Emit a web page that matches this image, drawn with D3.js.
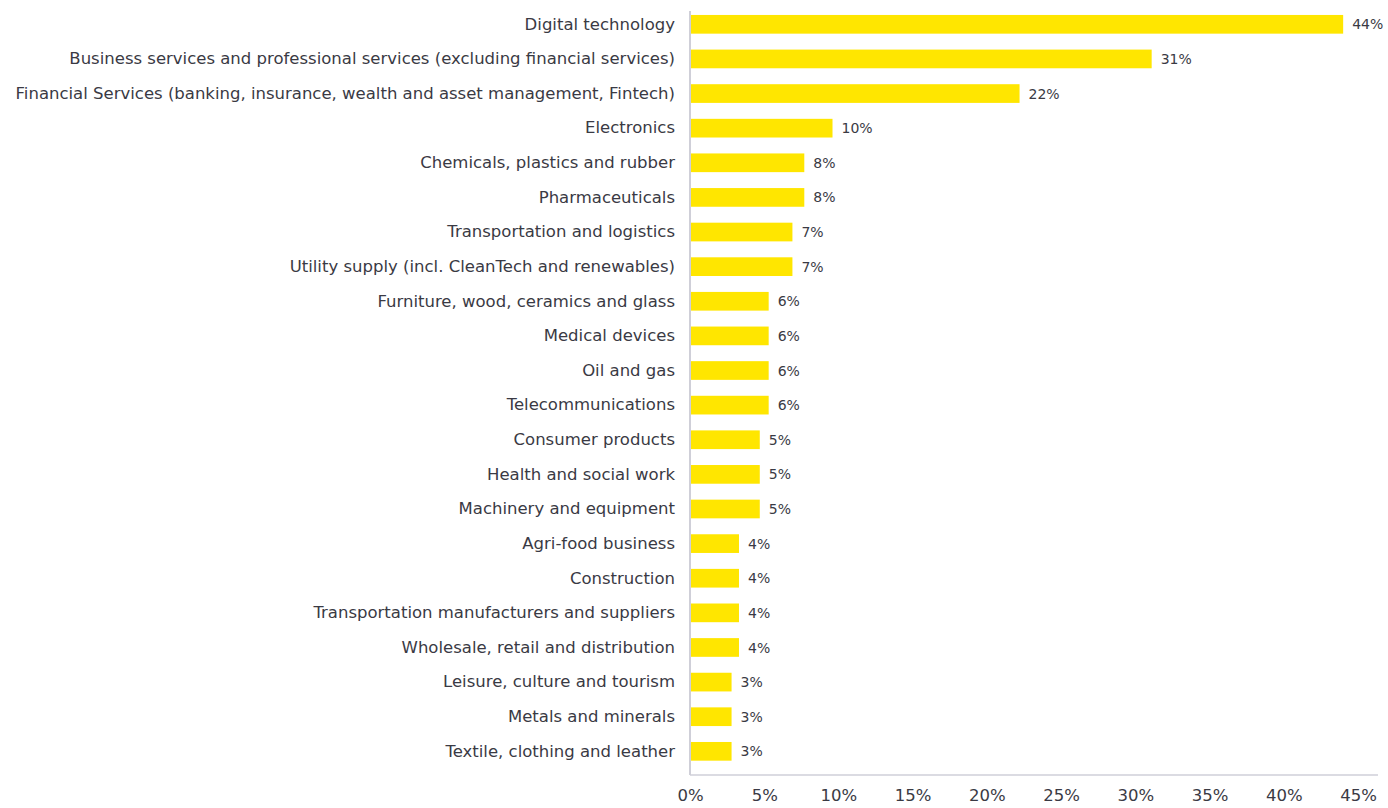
<!DOCTYPE html>
<html>
<head>
<meta charset="utf-8">
<script src="https://cdn.jsdelivr.net/npm/d3@7"></script>
<style>
  html, body { margin: 0; padding: 0; background: #fff; }
  svg { display: block; }
  text { font-family: "DejaVu Sans", "Noto Sans", sans-serif; fill: #3a3a44; }
</style>
</head>
<body>
<svg id="chart" width="1388" height="808"></svg>
<script>
const categories = [
  "Digital technology",
  "Business services and professional services (excluding financial services)",
  "Financial Services (banking, insurance, wealth and asset management, Fintech)",
  "Electronics",
  "Chemicals, plastics and rubber",
  "Pharmaceuticals",
  "Transportation and logistics",
  "Utility supply (incl. CleanTech and renewables)",
  "Furniture, wood, ceramics and glass",
  "Medical devices",
  "Oil and gas",
  "Telecommunications",
  "Consumer products",
  "Health and social work",
  "Machinery and equipment",
  "Agri-food business",
  "Construction",
  "Transportation manufacturers and suppliers",
  "Wholesale, retail and distribution",
  "Leisure, culture and tourism",
  "Metals and minerals",
  "Textile, clothing and leather"
];
// bar lengths (percent)
const values = [44.0, 31.1, 22.2, 9.6, 7.7, 7.7, 6.9, 6.9, 5.3, 5.3, 5.3, 5.3, 4.7, 4.7, 4.7, 3.3, 3.3, 3.3, 3.3, 2.8, 2.8, 2.8];
// value labels as printed
const valueLabels = ["44%", "31%", "22%", "10%", "8%", "8%", "7%", "7%", "6%", "6%", "6%", "6%", "5%", "5%", "5%", "4%", "4%", "4%", "4%", "3%", "3%", "3%"];
const tickValues = [0, 5, 10, 15, 20, 25, 30, 35, 40, 45];

const FONT = '"DejaVu Sans", "Noto Sans", sans-serif';
const svg = d3.select("#chart");
const x0 = 690, xEnd = 1378, axisY = 775;

const x = d3.scaleLinear().domain([0, 45]).range([x0, 1358]);
const y = d3.scaleBand()
  .domain(categories)
  .range([7, 7 + 22 * 34.62])
  .paddingInner(0.46)
  .paddingOuter(0.23);

// bars
svg.append("g").selectAll("rect")
  .data(categories)
  .join("rect")
  .attr("x", x(0) + 1)
  .attr("y", d => y(d))
  .attr("width", (d, i) => x(values[i]) - x(0) - 1)
  .attr("height", y.bandwidth())
  .attr("fill", "#FFE600");

// value labels
svg.append("g").selectAll("text")
  .data(categories)
  .join("text")
  .attr("x", (d, i) => x(values[i]) + 9)
  .attr("y", d => y(d) + y.bandwidth() / 2)
  .attr("dy", "0.36em")
  .attr("font-size", 14)
  .text((d, i) => valueLabels[i]);

// category axis (left)
const yAxis = d3.axisLeft(y).tickSize(0).tickPadding(15);
const gy = svg.append("g").attr("transform", `translate(${x0},0)`).call(yAxis);
gy.select(".domain").remove();
gy.selectAll("text").attr("font-size", 16.5).style("font-family", FONT).attr("fill", "#3a3a44");

// vertical axis line
svg.append("line")
  .attr("x1", x0).attr("x2", x0)
  .attr("y1", 11).attr("y2", axisY)
  .attr("stroke", "#cfcfd8").attr("stroke-width", 2);

// bottom axis
const xAxis = d3.axisBottom(x).tickValues(tickValues).tickSize(0).tickPadding(14)
  .tickFormat(d => d + "%");
const gx = svg.append("g").attr("transform", `translate(0,${axisY})`).call(xAxis);
gx.select(".domain").remove();
gx.selectAll("text").attr("font-size", 16.5).style("font-family", FONT).attr("fill", "#3a3a44");

svg.append("line")
  .attr("x1", x0).attr("x2", xEnd)
  .attr("y1", axisY).attr("y2", axisY)
  .attr("stroke", "#cfcfd8").attr("stroke-width", 1.5);
</script>
</body>
</html>
